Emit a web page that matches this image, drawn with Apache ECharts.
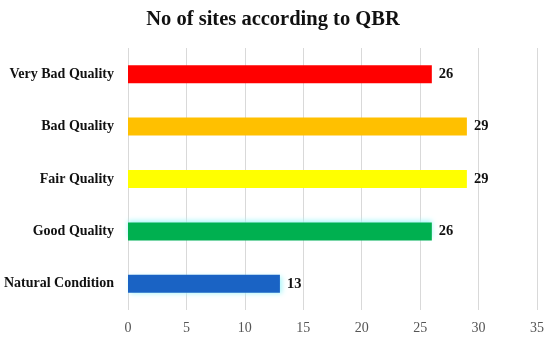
<!DOCTYPE html>
<html><head><meta charset="utf-8">
<script src="https://cdn.jsdelivr.net/npm/echarts@6/dist/echarts.min.js"></script>
<style>html,body{margin:0;padding:0;background:#fff}#c{width:550px;height:338px}</style>
</head><body><div id="c"></div>
<script>
const categories = ['Natural Condition', 'Good Quality', 'Fair Quality', 'Bad Quality', 'Very Bad Quality'];
const values = [13, 26, 29, 29, 26];
const colors = ['#1a63c4', '#00b050', '#ffff00', '#ffc000', '#ff0000'];
const xTicks = [0, 5, 10, 15, 20, 25, 30, 35];

const font = '"Liberation Serif", "DejaVu Serif", serif';
const chart = echarts.init(document.getElementById('c'), null, {renderer: 'canvas'});
chart.setOption({
  animation: false,
  title: {
    text: 'No of sites according to QBR',
    left: 268, top: 4, textAlign: 'center',
    textStyle: {fontFamily: font, fontSize: 20.5, fontWeight: 'bold', color: '#111'}
  },
  grid: {left: 128, right: 13, top: 48, bottom: 28, containLabel: false},
  xAxis: {
    type: 'value', min: xTicks[0], max: xTicks[xTicks.length - 1], interval: 5,
    axisLine: {show: false}, axisTick: {show: false},
    splitLine: {lineStyle: {color: '#d9d9d9', width: 1}},
    axisLabel: {fontFamily: font, fontSize: 14, color: '#555', margin: 11}
  },
  yAxis: {
    type: 'category', data: categories,
    axisLine: {show: false}, axisTick: {show: false},
    axisLabel: {fontFamily: font, fontSize: 14, fontWeight: 'bold', color: '#111', margin: 14}
  },
  series: [{
    type: 'bar', barWidth: 18,
    data: values.map((v, i) => ({
      value: v,
      itemStyle: Object.assign({color: colors[i]}, i < 2 ? {shadowColor: 'rgba(170,245,248,1)', shadowBlur: 5, shadowOffsetX: i === 0 ? 2 : 0, shadowOffsetY: i === 1 ? -2 : 1} : {})
    })),
    label: {show: true, position: 'right', distance: 7, fontFamily: font, fontSize: 14.5, fontWeight: 'bold', color: '#111'}
  }]
});
</script></body></html>
